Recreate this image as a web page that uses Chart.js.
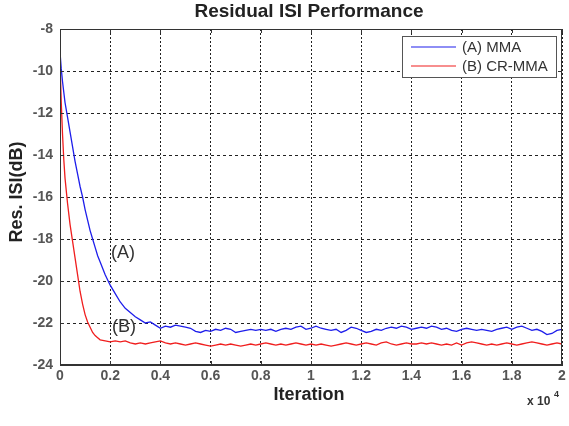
<!DOCTYPE html>
<html>
<head>
<meta charset="utf-8">
<script src="https://cdn.jsdelivr.net/npm/chart.js@4.4.1/dist/chart.umd.min.js"></script>
<style>
  html, body { margin: 0; padding: 0; background: #fff; }
  #wrap { width: 569px; height: 426px; }
</style>
</head>
<body>
<div id="wrap"><canvas id="isi"></canvas></div>
<script>
// iterations in units of 10^4
const iterations = [
  0, 0.005, 0.01, 0.015, 0.02, 0.03, 0.04, 0.05, 0.06, 0.07, 0.08, 0.09, 0.1, 0.11, 0.12, 0.13, 0.14, 0.15, 0.16,
  0.18, 0.2, 0.22, 0.24, 0.26, 0.28, 0.3, 0.32, 0.34, 0.36, 0.38, 0.4,
  0.42, 0.44, 0.46, 0.48, 0.5, 0.52, 0.54, 0.56, 0.58, 0.6,
  0.62, 0.64, 0.66, 0.68, 0.7, 0.72, 0.74, 0.76, 0.78, 0.8,
  0.82, 0.84, 0.86, 0.88, 0.9, 0.92, 0.94, 0.96, 0.98, 1.0,
  1.02, 1.04, 1.06, 1.08, 1.1, 1.12, 1.14, 1.16, 1.18, 1.2,
  1.22, 1.24, 1.26, 1.28, 1.3, 1.32, 1.34, 1.36, 1.38, 1.4,
  1.42, 1.44, 1.46, 1.48, 1.5, 1.52, 1.54, 1.56, 1.58, 1.6,
  1.62, 1.64, 1.66, 1.68, 1.7, 1.72, 1.74, 1.76, 1.78, 1.8,
  1.82, 1.84, 1.86, 1.88, 1.9, 1.92, 1.94, 1.96, 1.98, 2.0
];

const mma = [
  -9.1, -9.9, -10.5, -11.0, -11.5, -12.2, -12.9, -13.6, -14.3, -14.9, -15.5, -16.0, -16.6, -17.1, -17.6, -18.0, -18.4, -18.8, -19.1,
  -19.7, -20.2, -20.6, -21.0, -21.3, -21.5, -21.7, -21.85, -22.0, -21.95, -22.1, -22.25,
  -22.15, -22.2, -22.1, -22.15, -22.2, -22.25, -22.4, -22.45, -22.35, -22.4,
  -22.3, -22.35, -22.25, -22.3, -22.45, -22.4, -22.35, -22.3, -22.35, -22.3,
  -22.35, -22.3, -22.4, -22.3, -22.25, -22.3, -22.2, -22.15, -22.3, -22.25,
  -22.15, -22.25, -22.3, -22.35, -22.3, -22.45, -22.35, -22.2, -22.25, -22.35,
  -22.45, -22.4, -22.3, -22.35, -22.25, -22.2, -22.25, -22.15, -22.2, -22.3,
  -22.25, -22.2, -22.25, -22.15, -22.2, -22.3, -22.25, -22.35, -22.4, -22.3,
  -22.25, -22.3, -22.35, -22.3, -22.35, -22.4, -22.3, -22.25, -22.2, -22.3,
  -22.2, -22.15, -22.25, -22.35, -22.3, -22.4, -22.55, -22.5, -22.35, -22.3
];

const crmma = [
  -9.5, -11.5, -13.0, -14.2, -15.1, -16.3, -17.3, -18.1, -18.9, -19.7, -20.5, -21.1, -21.6, -21.95, -22.2, -22.45, -22.6, -22.7, -22.8,
  -22.85, -22.9, -22.85, -22.9, -22.85, -22.95, -23.0, -22.95, -23.0, -22.95, -22.9, -22.85,
  -22.95, -23.0, -22.95, -23.0, -23.05, -23.0, -22.95, -23.0, -23.05, -23.1,
  -23.05, -23.0, -23.05, -23.0, -23.05, -23.1, -23.05, -23.0, -23.05, -23.0,
  -22.95, -23.0, -23.05, -23.0, -23.05, -23.0, -22.95, -23.0, -23.05, -23.0,
  -23.05, -23.0, -23.05, -23.1, -23.05, -23.0, -22.95, -23.0, -23.05, -23.0,
  -22.95, -23.0, -23.05, -22.95, -22.9, -23.0, -23.05, -23.0, -22.95, -23.0,
  -23.0, -22.95, -23.0, -22.95, -23.0, -23.05, -23.0, -23.05, -22.95, -23.05,
  -22.95, -22.9, -22.95, -23.0, -23.05, -23.0, -23.05, -23.0, -22.95, -23.0,
  -23.05, -23.0, -22.95, -22.9, -22.95, -23.0, -23.05, -23.0, -22.95, -23.0
];

const seriesNames = ["(A) MMA", "(B) CR-MMA"];
const seriesColors = ["rgb(30, 30, 235)", "rgb(240, 30, 30)"];
const xTicks = [0, 0.2, 0.4, 0.6, 0.8, 1, 1.2, 1.4, 1.6, 1.8, 2];
const yTicks = [-24, -22, -20, -18, -16, -14, -12, -10, -8];

const FONT = "Arial, 'Liberation Sans', sans-serif";

const toPoints = (ys) => iterations.map((x, i) => ({ x: x, y: ys[i] }));

// draws the frame, inner ticks, titles, legend box and curve labels
const decorations = {
  id: "decorations",
  afterDraw(chart) {
    const ctx = chart.ctx;
    const a = chart.chartArea;
    const xs = chart.scales.x;
    const ys = chart.scales.y;
    ctx.save();

    ctx.strokeStyle = "#333";
    ctx.lineWidth = 1;
    ctx.setLineDash([]);
    ctx.strokeRect(a.left + 0.5, a.top + 0.5, a.right - a.left - 1, a.bottom - a.top - 1);

    ctx.beginPath();
    for (const t of xTicks) {
      const px = Math.round(xs.getPixelForValue(t)) + 0.5;
      ctx.moveTo(px, a.top); ctx.lineTo(px, a.top + 4);
      ctx.moveTo(px, a.bottom); ctx.lineTo(px, a.bottom - 4);
    }
    for (const t of yTicks) {
      const py = Math.round(ys.getPixelForValue(t)) + 0.5;
      ctx.moveTo(a.left, py); ctx.lineTo(a.left + 4, py);
      ctx.moveTo(a.right, py); ctx.lineTo(a.right - 4, py);
    }
    ctx.stroke();

    ctx.fillStyle = "#222";
    ctx.textAlign = "center";
    ctx.textBaseline = "middle";
    ctx.font = "bold 19px " + FONT;
    ctx.fillText("Residual ISI Performance", 309, 12);
    ctx.font = "bold 18px " + FONT;
    ctx.fillText("Iteration", 309, 395);

    ctx.save();
    ctx.translate(17, 192);
    ctx.rotate(-Math.PI / 2);
    ctx.fillText("Res. ISI(dB)", 0, 0);
    ctx.restore();

    ctx.font = "bold 12px " + FONT;
    ctx.textAlign = "left";
    ctx.fillStyle = "#333";
    ctx.fillText("x 10", 527, 402);
    ctx.font = "bold 9px " + FONT;
    ctx.fillText("4", 554, 395);

    ctx.font = "18px " + FONT;
    ctx.textAlign = "center";
    ctx.fillText("(A)", 123, 253);
    ctx.fillText("(B)", 124, 327);

    // legend
    const lx = 402, ly = 36, lw = 154, lh = 41;
    ctx.fillStyle = "#fff";
    ctx.fillRect(lx, ly, lw, lh);
    ctx.strokeStyle = "#555";
    ctx.strokeRect(lx + 0.5, ly + 0.5, lw, lh);
    ctx.font = "15px " + FONT;
    ctx.textAlign = "left";
    seriesNames.forEach((name, i) => {
      const y = ly + 11 + i * 19;
      ctx.strokeStyle = seriesColors[i];
      ctx.lineWidth = 1.2;
      ctx.beginPath();
      ctx.moveTo(411, y); ctx.lineTo(456, y);
      ctx.stroke();
      ctx.fillStyle = "#333";
      ctx.fillText(name, 462, y + 1);
    });

    ctx.restore();
  }
};

new Chart(document.getElementById("isi"), {
  type: "line",
  data: {
    datasets: [
      {
        label: seriesNames[0],
        data: toPoints(mma),
        borderColor: seriesColors[0],
        borderWidth: 1.3,
        pointRadius: 0,
        tension: 0
      },
      {
        label: seriesNames[1],
        data: toPoints(crmma),
        borderColor: seriesColors[1],
        borderWidth: 1.3,
        pointRadius: 0,
        tension: 0
      }
    ]
  },
  options: {
    responsive: true,
    maintainAspectRatio: false,
    animation: false,
    layout: { padding: { top: 29, right: 7, left: 0, bottom: 0 } },
    plugins: {
      legend: { display: false },
      tooltip: { enabled: false }
    },
    scales: {
      x: {
        type: "linear",
        min: 0,
        max: 2,
        afterFit: (s) => { s.height = 61; },
        afterBuildTicks: (s) => { s.ticks = xTicks.map((v) => ({ value: v })); },
        ticks: {
          padding: 3,
          color: "#555",
          font: { family: FONT, size: 14, weight: "bold" },
          callback: (v) => String(v)
        },
        grid: { color: "#222", lineWidth: 1, drawTicks: false },
        border: { display: true, color: "#333", dash: [2, 2] }
      },
      y: {
        min: -24,
        max: -8,
        afterFit: (s) => { s.width = 60; },
        afterBuildTicks: (s) => { s.ticks = yTicks.map((v) => ({ value: v })); },
        ticks: {
          padding: 7,
          color: "#555",
          font: { family: FONT, size: 14, weight: "bold" }
        },
        grid: { color: "#222", lineWidth: 1, drawTicks: false },
        border: { display: true, color: "#333", dash: [3, 3] }
      }
    }
  },
  plugins: [decorations]
});
</script>
</body>
</html>
